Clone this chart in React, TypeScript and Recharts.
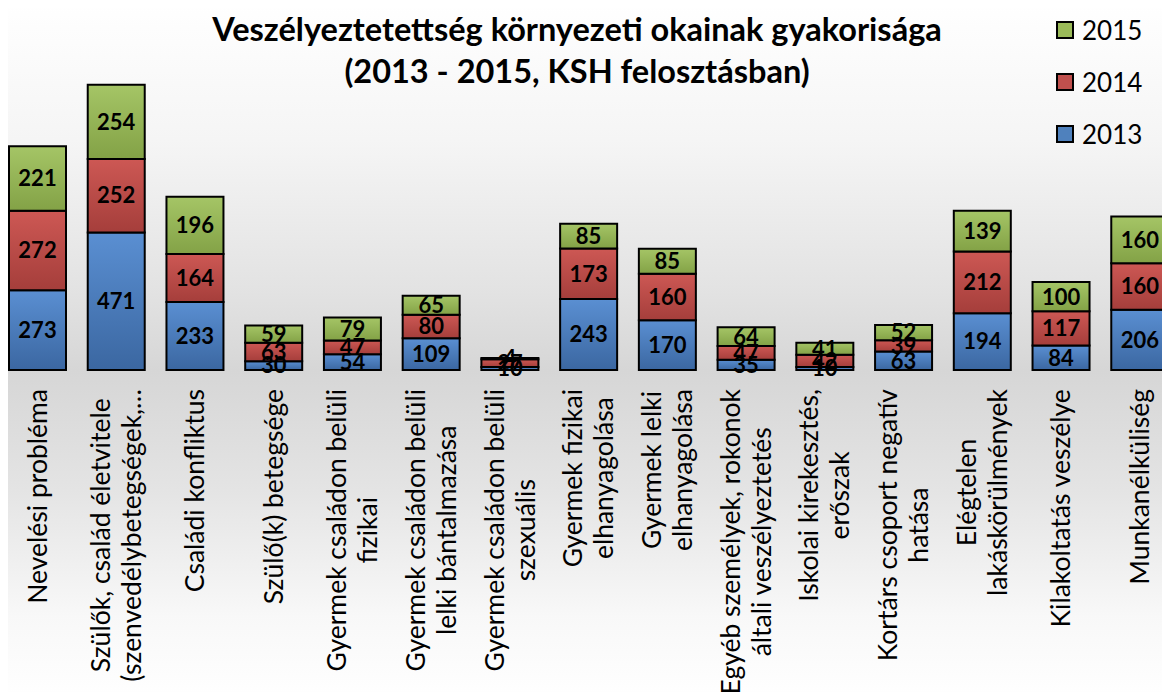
import React from 'react';
import { BarChart, Bar, XAxis, YAxis, LabelList } from 'recharts';

const categories = [
  'Nevelési probléma',
  'Szülők, család életvitele\n(szenvedélybetegségek,…',
  'Családi konfliktus',
  'Szülő(k) betegsége',
  'Gyermek családon belüli\nfizikai',
  'Gyermek családon belüli\nlelki bántalmazása',
  'Gyermek családon belüli\nszexuális',
  'Gyermek fizikai\nelhanyagolása',
  'Gyermek lelki\nelhanyagolása',
  'Egyéb személyek, rokonok\náltali veszélyeztetés',
  'Iskolai kirekesztés,\nerőszak',
  'Kortárs csoport negatív\nhatása',
  'Elégtelen\nlakáskörülmények',
  'Kilakoltatás veszélye',
  'Munkanélküliség',
];

const values2013 = [273, 471, 233, 30, 54, 109, 10, 243, 170, 35, 10, 63, 194, 84, 206];
const values2014 = [272, 252, 164, 63, 47, 80, 27, 173, 160, 47, 42, 39, 212, 117, 160];
const values2015 = [221, 254, 196, 59, 79, 65, 4, 85, 85, 64, 41, 52, 139, 100, 160];

const years = ['2015', '2014', '2013'];

const chartData = categories.map((name, i) => ({
  name,
  y2013: values2013[i],
  y2014: values2014[i],
  y2015: values2015[i],
}));

const FONT = 'Lato, "Noto Sans", sans-serif';
const TICK_SIZE = 26.5;

let ctx: CanvasRenderingContext2D | null = null;
function measure(text: string) {
  if (!ctx) ctx = document.createElement('canvas').getContext('2d');
  if (!ctx) return text.length * TICK_SIZE * 0.5;
  ctx.font = `${TICK_SIZE}px ${FONT}`;
  return ctx.measureText(text).width;
}

const CategoryTick = (props: any) => {
  const { x, payload } = props;
  const lines = String(payload.value).split('\n');
  const w = Math.max(...lines.map(measure));
  const cy = 389 + w / 2;
  const lh = 31;
  return (
    <g transform={`translate(${x},${cy}) rotate(-90)`}>
      {lines.map((l, i) => (
        <text
          key={i}
          x={0}
          y={(i - (lines.length - 1) / 2) * lh}
          dy="0.35em"
          textAnchor="middle"
          fontFamily={FONT}
          fontSize={TICK_SIZE}
          fill="#000"
        >
          {l}
        </text>
      ))}
    </g>
  );
};

const legendColors: Record<string, string> = {
  '2015': '#9bbb59',
  '2014': '#c0504d',
  '2013': '#4f81bd',
};

export default function App() {
  return (
    <div
      style={{
        margin: -8,
        width: 1170,
        height: 700,
        position: 'relative',
        overflow: 'hidden',
        background:
          'linear-gradient(to bottom, #ffffff 0%, #f5f5f5 20%, #e2e2e2 42%, #d6d6d6 53%, #e4e4e4 70%, #f8f8f8 88%, #ffffff 100%)',
      }}
    >
      <div
        style={{
          position: 'absolute',
          top: 8,
          left: 0,
          width: 1154,
          textAlign: 'center',
          fontFamily: FONT,
          fontWeight: 700,
          fontSize: 32.5,
          lineHeight: '42px',
          color: '#000',
        }}
      >
        Veszélyeztetettség környezeti okainak gyakorisága
        <br />
        (2013 - 2015, KSH felosztásban)
      </div>
      <div style={{ position: 'absolute', top: 4, left: 1056, fontFamily: FONT, fontSize: 26 }}>
        {years.map((y) => (
          <div key={y} style={{ display: 'flex', alignItems: 'center', height: 52 }}>
            <span
              style={{
                width: 14,
                height: 14,
                border: '2px solid #000',
                background: legendColors[y],
                marginRight: 8,
                display: 'inline-block',
              }}
            />
            <span>{y}</span>
          </div>
        ))}
      </div>
      <BarChart
        width={1170}
        height={700}
        data={chartData}
        margin={{ top: 78, right: -9, left: -2, bottom: 0 }}
        barSize={57}
        style={{ position: 'absolute', top: 0, left: 0 }}
      >
        <defs>
          <linearGradient id="gBlue" x1="0" y1="0" x2="0" y2="1">
            <stop offset="0%" stopColor="#5a8fd2" />
            <stop offset="100%" stopColor="#3b67a1" />
          </linearGradient>
          <linearGradient id="gRed" x1="0" y1="0" x2="0" y2="1">
            <stop offset="0%" stopColor="#cd5854" />
            <stop offset="100%" stopColor="#a53e3b" />
          </linearGradient>
          <linearGradient id="gGreen" x1="0" y1="0" x2="0" y2="1">
            <stop offset="0%" stopColor="#a5c566" />
            <stop offset="100%" stopColor="#83a246" />
          </linearGradient>
        </defs>
        <XAxis
          dataKey="name"
          interval={0}
          height={330}
          axisLine={false}
          tickLine={false}
          tick={<CategoryTick />}
        />
        <YAxis hide domain={[0, 1000]} />
        <Bar dataKey="y2013" stackId="a" fill="url(#gBlue)" stroke="#000" strokeWidth={2} isAnimationActive={false}>
          <LabelList dataKey="y2013" position="center" fill="#000" fontFamily={FONT} fontWeight={700} fontSize={22} />
        </Bar>
        <Bar dataKey="y2014" stackId="a" fill="url(#gRed)" stroke="#000" strokeWidth={2} isAnimationActive={false}>
          <LabelList dataKey="y2014" position="center" fill="#000" fontFamily={FONT} fontWeight={700} fontSize={22} />
        </Bar>
        <Bar dataKey="y2015" stackId="a" fill="url(#gGreen)" stroke="#000" strokeWidth={2} isAnimationActive={false}>
          <LabelList dataKey="y2015" position="center" fill="#000" fontFamily={FONT} fontWeight={700} fontSize={22} />
        </Bar>
      </BarChart>
    </div>
  );
}
